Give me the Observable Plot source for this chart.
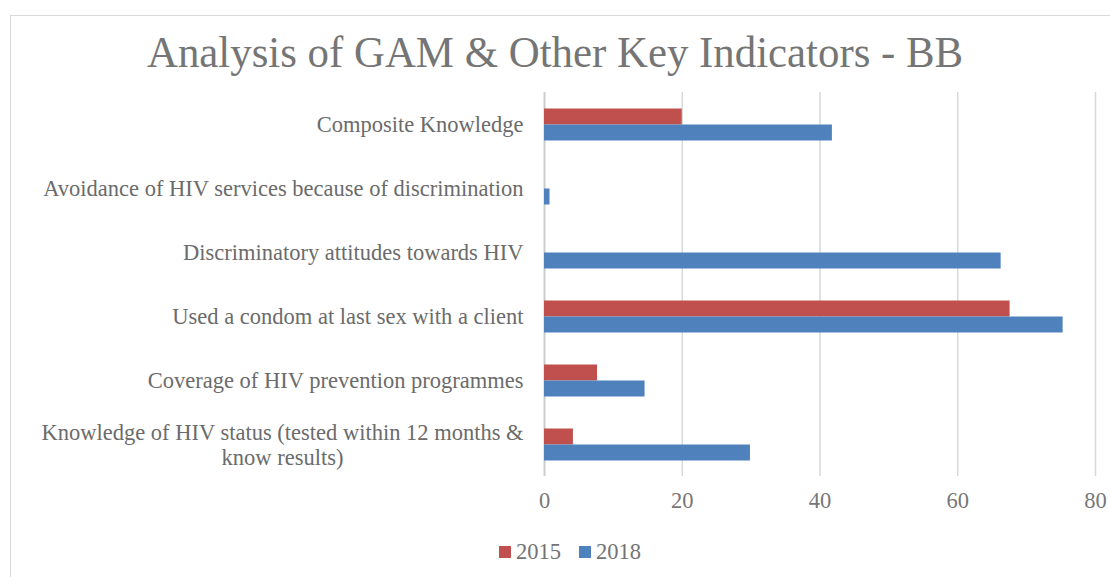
<!DOCTYPE html>
<html>
<head>
<meta charset="utf-8">
<script src="https://cdn.jsdelivr.net/npm/d3@7"></script>
<script src="https://cdn.jsdelivr.net/npm/@observablehq/plot@0.6"></script>
<style>
  html, body { margin: 0; padding: 0; background: #fff; }
  #wrap { position: relative; width: 1110px; height: 577px; overflow: hidden; font-family: "Liberation Serif", serif; }
  #frame { position: absolute; left: 10px; top: 15px; width: 1200px; height: 700px; border: 1px solid #d9d9d9; box-sizing: border-box; }
  #title { position: absolute; left: 0; width: 1110px; top: 30px; text-align: center; font-size: 45px; color: #757575; line-height: 1; white-space: nowrap; transform: scaleX(0.952); transform-origin: 556px 0; }
  #chart { position: absolute; left: 0; top: 0; }
  #legend { position: absolute; top: 537px; left: 499px; display: flex; gap: 18px; font-size: 22.5px; color: #737373; line-height: 30px; }
  .item { display: flex; align-items: center; gap: 5px; }
  .sw { width: 12px; height: 12px; display: inline-block; }
</style>
</head>
<body>
<div id="wrap">
  <div id="frame"></div>
  <div id="title">Analysis of GAM &amp; Other Key Indicators - BB</div>
  <div id="chart"></div>
  <div id="legend"></div>
</div>
<script>
const categories = [
  "Composite Knowledge",
  "Avoidance of HIV services because of discrimination",
  "Discriminatory attitudes towards HIV",
  "Used a condom at last sex with a client",
  "Coverage of HIV prevention programmes",
  "Knowledge of HIV status (tested within 12 months & know results)"
];
const longLabel = "Knowledge of HIV status (tested within 12 months &\nknow results)";
const years = ["2015", "2018"];
const values2015 = [20.0, null, null, 67.6, 7.7, 4.2];
const values2018 = [41.8, 0.8, 66.3, 75.3, 14.6, 29.9];
const colors = ["#C0504D", "#4F81BD"];
const xTicks = [0, 20, 40, 60, 80];

const data = [];
categories.forEach((c, i) => {
  if (values2015[i] != null) data.push({category: c, year: "2015", value: values2015[i]});
  if (values2018[i] != null) data.push({category: c, year: "2018", value: values2018[i]});
});

const font = "Liberation Serif, serif";
const labelColor = "#6b6b6b";
const chart = Plot.plot({
  width: 1110,
  height: 530,
  marginTop: 91.5,
  marginBottom: 54.5,
  marginLeft: 544,
  marginRight: 15,
  style: {fontFamily: font, fontSize: "22.5px", color: labelColor, background: "transparent"},
  x: {domain: [0, 80], ticks: xTicks, label: null, axis: null},
  y: {domain: years, axis: null, paddingInner: 0, paddingOuter: 0.92},
  fy: {domain: categories, padding: 0, axis: null},
  color: {domain: years, range: colors},
  marks: [
    Plot.gridX(xTicks.slice(1), {stroke: "#d9d9d9", strokeOpacity: 1, strokeWidth: 1.5}),
    Plot.ruleX([0], {stroke: "#cccccc", strokeWidth: 2}),
    Plot.barX(data, {x: "value", y: "year", fy: "category", fill: "year"}),
    Plot.axisX({ticks: xTicks, tickSize: 0, tickPadding: 16, fontSize: 22.5, fill: "#777777", facetAnchor: "bottom", label: null}),
    Plot.axisFy({anchor: "left", tickSize: 0, tickPadding: 21, fontSize: 22.5, fill: labelColor, label: null,
      tickFormat: d => d === categories[5] ? "" : d}),
    Plot.text([categories[5]], {fy: d => d, text: () => longLabel, frameAnchor: "left", textAnchor: "middle",
      dx: -262, fontSize: 22.5, fill: labelColor, lineHeight: 1.1})
  ]
});
document.getElementById("chart").appendChild(chart);

const legend = document.getElementById("legend");
years.forEach((y, i) => {
  const it = document.createElement("div");
  it.className = "item";
  it.innerHTML = `<span class="sw" style="background:${colors[i]}"></span><span>${y}</span>`;
  legend.appendChild(it);
});
</script>
</body>
</html>
